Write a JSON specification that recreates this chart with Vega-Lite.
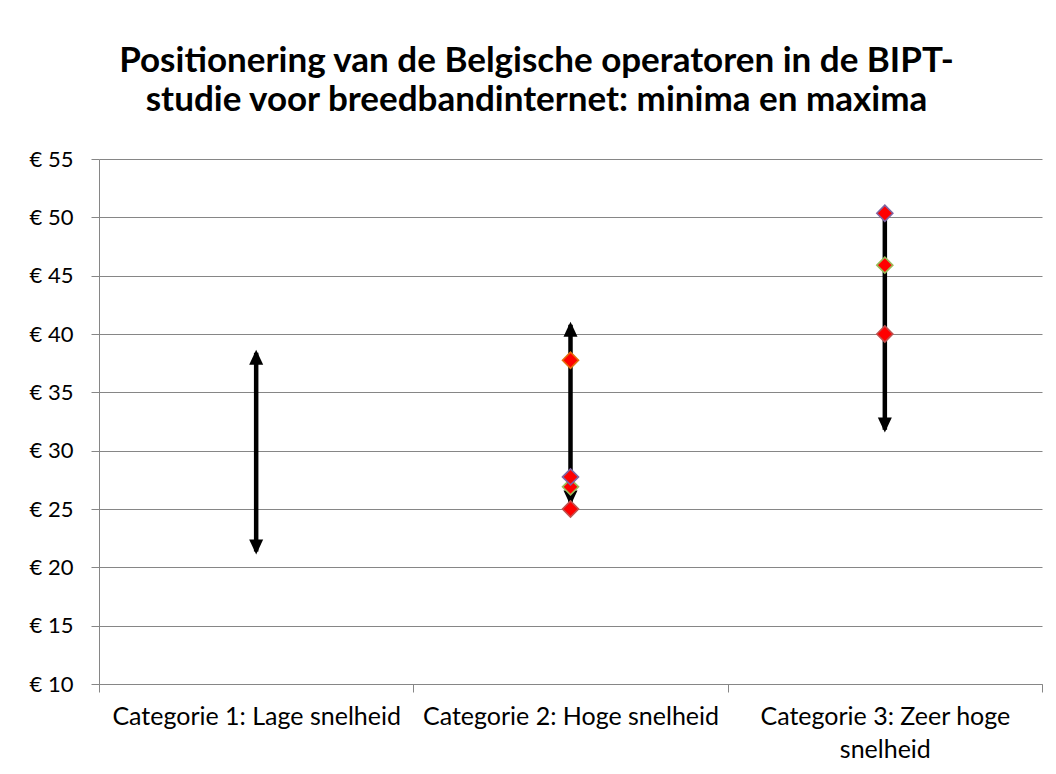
{
  "$schema": "https://vega.github.io/schema/vega-lite/v6.json",
  "width": 943,
  "height": 525,
  "autosize": "none",
  "padding": {"left": 99, "top": 159, "right": 14, "bottom": 90},
  "background": "white",
  "title": {
    "text": ["Positionering van de Belgische operatoren in de BIPT-", "studie voor breedbandinternet: minima en maxima"],
    "font": "Lato",
    "fontSize": 35,
    "fontWeight": "bold",
    "color": "#000000",
    "anchor": "middle",
    "frame": "group",
    "dx": -34,
    "offset": 30,
    "lineHeight": 39
  },
  "datasets": {
    "ranges": [
      {"cat": "Categorie 1: Lage snelheid", "low": 21.35, "high": 38.4},
      {"cat": "Categorie 2: Hoge snelheid", "low": 25.55, "high": 40.8},
      {"cat": "Categorie 3: Zeer hoge snelheid", "low": 31.8, "high": 50.4}
    ],
    "heads": [
      {"cat": "Categorie 1: Lage snelheid", "value": 38.4, "dir": "up"},
      {"cat": "Categorie 1: Lage snelheid", "value": 21.35, "dir": "down"},
      {"cat": "Categorie 2: Hoge snelheid", "value": 40.8, "dir": "up"},
      {"cat": "Categorie 2: Hoge snelheid", "value": 25.55, "dir": "down"},
      {"cat": "Categorie 3: Zeer hoge snelheid", "value": 31.8, "dir": "down"}
    ],
    "points": [
      {"cat": "Categorie 2: Hoge snelheid", "price": 25.0, "reeks": "Reeks 1"},
      {"cat": "Categorie 2: Hoge snelheid", "price": 26.9, "reeks": "Reeks 2"},
      {"cat": "Categorie 2: Hoge snelheid", "price": 27.75, "reeks": "Reeks 3"},
      {"cat": "Categorie 2: Hoge snelheid", "price": 37.75, "reeks": "Reeks 4"},
      {"cat": "Categorie 3: Zeer hoge snelheid", "price": 40.0, "reeks": "Reeks 1"},
      {"cat": "Categorie 3: Zeer hoge snelheid", "price": 45.9, "reeks": "Reeks 2"},
      {"cat": "Categorie 3: Zeer hoge snelheid", "price": 50.35, "reeks": "Reeks 3"}
    ]
  },
  "encoding": {
    "x": {
      "field": "cat",
      "type": "nominal",
      "sort": null,
      "scale": {
        "domain": ["Categorie 1: Lage snelheid", "Categorie 2: Hoge snelheid", "Categorie 3: Zeer hoge snelheid"],
        "paddingInner": 0,
        "paddingOuter": 0
      },
      "axis": {
        "title": null,
        "labelAngle": 0,
        "tickBand": "extent",
        "domainColor": "#868686",
        "tickColor": "#868686",
        "tickSize": 8,
        "labelFont": "Lato",
        "labelFontSize": 25,
        "labelColor": "#000000",
        "labelPadding": 12,
        "labelLimit": 0,
        "labelBaseline": "top",
        "labelLineHeight": 33,
        "labelExpr": "datum.value == 'Categorie 3: Zeer hoge snelheid' ? ['Categorie 3: Zeer hoge', 'snelheid'] : datum.value"
      }
    }
  },
  "layer": [
    {
      "data": {"name": "ranges"},
      "mark": {"type": "rule", "color": "#000000", "strokeWidth": 4.5},
      "encoding": {
        "y": {
          "field": "low",
          "type": "quantitative",
          "scale": {"domain": [10, 55], "nice": false, "zero": false},
          "axis": {
            "title": null,
            "values": [10, 15, 20, 25, 30, 35, 40, 45, 50, 55],
            "labelExpr": "'€ ' + datum.value",
            "grid": true,
            "gridColor": "#868686",
            "gridWidth": 1,
            "domainColor": "#868686",
            "tickColor": "#868686",
            "tickSize": 8,
            "labelPadding": 18,
            "labelFont": "Lato",
            "labelFontSize": 22,
            "labelColor": "#000000"
          }
        },
        "y2": {"field": "high"}
      }
    },
    {
      "data": {"name": "heads"},
      "mark": {"type": "point", "filled": true, "color": "#000000", "size": 784, "opacity": 1},
      "encoding": {
        "y": {"field": "value", "type": "quantitative"},
        "shape": {
          "field": "dir",
          "type": "nominal",
          "scale": {
            "domain": ["up", "down"],
            "range": ["M0,-0.2L0.5,0.87L-0.5,0.87Z", "M0,0.2L0.5,-0.87L-0.5,-0.87Z"]
          },
          "legend": null
        }
      }
    },
    {
      "data": {"name": "points"},
      "mark": {"type": "point", "shape": "diamond", "filled": true, "fill": "#FF0000", "size": 256, "strokeWidth": 1.6, "opacity": 1},
      "encoding": {
        "y": {"field": "price", "type": "quantitative"},
        "stroke": {
          "field": "reeks",
          "type": "nominal",
          "scale": {
            "domain": ["Reeks 1", "Reeks 2", "Reeks 3", "Reeks 4"],
            "range": ["#C0504D", "#9BBB59", "#8064A2", "#E46C0A"]
          },
          "legend": null
        }
      }
    }
  ],
  "config": {
    "view": {"stroke": null}
  }
}
